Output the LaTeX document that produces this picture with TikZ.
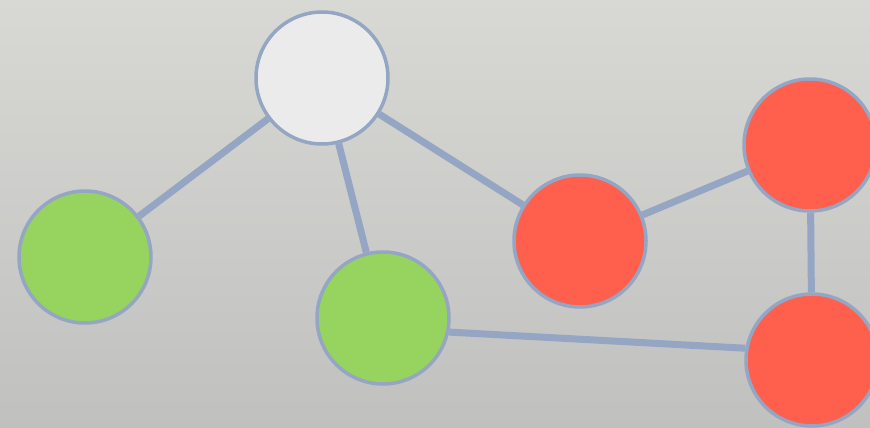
\documentclass[tikz,border=0pt]{standalone}

\definecolor{edgeblue}{HTML}{94A6C4}
\definecolor{nodewhite}{HTML}{EBEBEB}
\definecolor{nodegreen}{HTML}{96D35F}
\definecolor{nodered}{HTML}{FE604D}
\definecolor{bgtop}{HTML}{D8D9D4}
\definecolor{bgbottom}{HTML}{C0C0BF}

\begin{document}
\begin{tikzpicture}[x=1pt,y=-1pt,
    vertex/.style={circle,draw=edgeblue,line width=3.5pt,minimum size=132pt,inner sep=0pt},
    link/.style={draw=edgeblue,line width=7pt}]
      \shade[top color=bgtop,bottom color=bgbottom] (0,0) rectangle (870,428);
      \useasboundingbox (0,0) rectangle (870,428);
      \node[vertex,fill=nodewhite] (root) at (322,78) {};
      \node[vertex,fill=nodegreen] (gl) at (85,257) {};
      \node[vertex,fill=nodegreen] (gm) at (383,318) {};
      \node[vertex,fill=nodered] (ra) at (580,241) {};
      \node[vertex,fill=nodered] (rb) at (810,145) {};
      \node[vertex,fill=nodered] (rc) at (812,360) {};
      \draw[link] (root) -- (gl);
      \draw[link] (root) -- (gm);
      \draw[link] (root) -- (ra);
      \draw[link] (ra) -- (rb);
      \draw[link] (rb) -- (rc);
      \draw[link] (gm.-12) -- (rc.170);
\end{tikzpicture}
\end{document}
